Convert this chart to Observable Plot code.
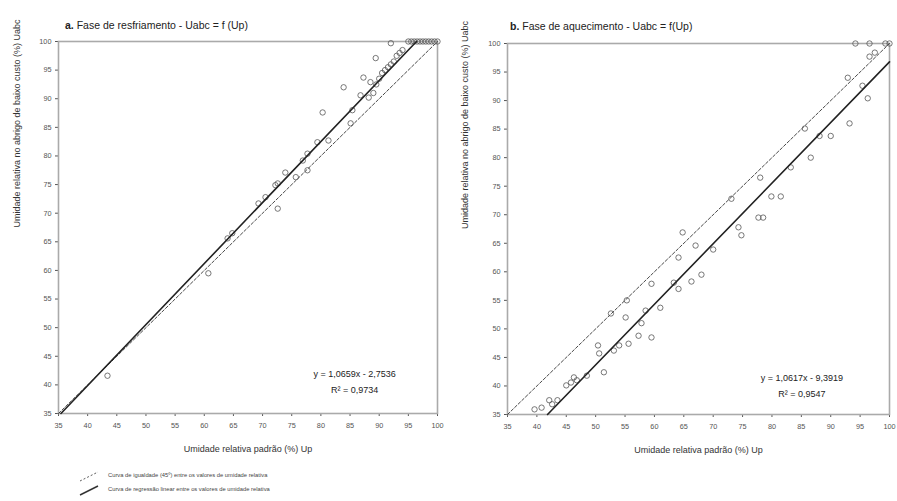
<!DOCTYPE html>
<html>
<head>
<meta charset="utf-8">
<script src="https://cdn.jsdelivr.net/npm/d3@7"></script>
<script src="https://cdn.jsdelivr.net/npm/@observablehq/plot@0.6"></script>
<style>
  body { margin: 0; background: #fff; font-family: "Liberation Sans", Arial, sans-serif; }
  #wrap { position: relative; width: 897px; height: 501px; overflow: hidden; }
  .panel { position: absolute; top: 0; }
  .title { position: absolute; font-size: 10.5px; color: #222; white-space: nowrap; }
  .legend { position: absolute; font-size: 5.8px; color: #444; white-space: nowrap; }
</style>
</head>
<body>
<div id="wrap"></div>
<script>
// ---------- data ----------
const ticks = [35, 40, 45, 50, 55, 60, 65, 70, 75, 80, 85, 90, 95, 100];

// Panel a: cooling phase (Up, Uabc)
const aUp = [43.4, 60.7, 64.0, 64.8, 69.3, 70.5, 72.2, 72.6, 72.6, 73.9, 75.7, 76.9, 77.7, 77.7,
  79.4, 80.3, 81.3, 83.9, 85.1, 85.4, 86.8, 87.3, 88.2, 88.5, 89.0, 89.4, 89.5, 90.0, 90.5, 91.0,
  91.5, 92.0, 92.0, 92.5, 93.0, 93.5, 94.0, 95.0, 95.5, 96.0, 96.5, 97.0, 97.5, 98.0, 98.5, 99.0, 99.5, 100];
const aUabc = [41.6, 59.5, 65.6, 66.5, 71.7, 72.8, 74.9, 75.2, 70.8, 77.1, 76.3, 79.2, 80.4, 77.5,
  82.4, 87.6, 82.7, 92.0, 85.7, 88.0, 90.6, 93.7, 90.2, 92.9, 91.0, 97.1, 92.5, 93.5, 94.5, 95.0,
  95.5, 96.0, 99.7, 96.5, 97.5, 98.0, 98.5, 100, 100, 100, 100, 100, 100, 100, 100, 100, 100, 100];

// Panel b: heating phase (Up, Uabc)
const bUp = [39.6, 40.8, 42.1, 42.6, 43.5, 45.0, 45.8, 46.3, 46.8, 48.5, 50.4, 50.6, 51.4, 52.6,
  53.1, 54.0, 55.1, 55.3, 55.6, 57.3, 57.8, 58.5, 59.5, 59.5, 61.0, 63.3, 64.1, 64.1, 64.8, 66.3,
  67.0, 68.0, 70.0, 73.1, 74.3, 74.8, 77.7, 78.0, 78.5, 79.9, 81.5, 83.2, 85.6, 86.6, 88.1, 90.0,
  92.9, 93.2, 95.4, 96.3, 94.2, 96.6, 96.6, 97.5, 99.3, 100];
const bUabc = [35.9, 36.2, 37.5, 36.8, 37.5, 40.1, 40.6, 41.5, 41.0, 41.8, 47.1, 45.7, 42.4, 52.7,
  46.2, 47.1, 52.0, 55.0, 47.4, 48.8, 51.0, 53.2, 57.9, 48.5, 53.7, 58.1, 57.0, 62.5, 66.9, 58.3,
  64.6, 59.5, 63.9, 72.8, 67.8, 66.4, 69.5, 76.5, 69.5, 73.2, 73.2, 78.3, 85.1, 80.0, 83.8, 83.8,
  94.0, 86.0, 92.6, 90.4, 100, 100, 97.7, 98.4, 100, 100];

// regression coefficients [slope, intercept], R²
const aCoef = [1.0659, -2.7536], aR2 = "0,9734";
const bCoef = [1.0617, -9.3919], bR2 = "0,9547";
const aEq = "y = 1,0659x - 2,7536";
const bEq = "y = 1,0617x - 9,3919";

const titles = [
  ["a.", " Fase de resfriamento - Uabc = f (Up)"],
  ["b.", " Fase de aquecimento - Uabc = f(Up)"]
];
const xLabel = "Umidade relativa padrão (%) Up";
const yLabel = "Umidade relativa no abrigo de baixo custo (%) Uabc";
const legendLabels = [
  "Curva de igualdade (45º) entre os valores de umidade relativa",
  "Curva de regressão linear entre os valores de umidade relativa"
];

// ---------- drawing ----------
const font = '"Liberation Sans", Arial, sans-serif';
const wrap = document.getElementById("wrap");

function regLine(coef) {
  const [m, b] = coef;
  const x0 = Math.max(35, (35 - b) / m);
  const x1 = Math.min(100, (100 - b) / m);
  return [{x: x0, y: m * x0 + b}, {x: x1, y: m * x1 + b}];
}

function panel(up, uabc, coef, eq, r2, opts) {
  const pts = up.map((v, i) => ({x: v, y: uabc[i]}));
  const ident = [{x: 35, y: 35}, {x: 100, y: 100}];
  const eqs = [
    {x: opts.eqX, y: opts.eqY, t: eq},
    {x: opts.eqX, y: opts.eqY - 2.8, t: "R² = " + r2}
  ];
  return Plot.plot({
    width: 448,
    height: 462,
    marginLeft: opts.ml,
    marginRight: opts.mr,
    marginTop: opts.mt,
    marginBottom: 462 - opts.bottom,
    style: {fontFamily: font, fontSize: "7.3px", color: "#555", background: "transparent"},
    x: {domain: [35, 100], ticks: ticks, tickSize: 3, tickPadding: 6, label: null},
    y: {domain: [35, 100], ticks: ticks, tickSize: 3, tickPadding: 4, label: null},
    marks: [
      Plot.frame({stroke: "#aaa", strokeWidth: 1.6}),
      Plot.line(ident, {x: "x", y: "y", stroke: "#333", strokeWidth: 0.9, strokeDasharray: "3,2"}),
      Plot.dot(pts, {x: "x", y: "y", r: 2.7, stroke: "#555", strokeWidth: 0.8, fill: "none"}),
      Plot.line(regLine(coef), {x: "x", y: "y", stroke: "#222", strokeWidth: 1.6}),
      Plot.text(eqs, {x: "x", y: "y", text: "t", fontSize: 9, fill: "#222"}),
      Plot.text([xLabel], {frameAnchor: "bottom", dy: 38, fontSize: 9, fill: "#333"}),
      Plot.text([yLabel], {frameAnchor: "left", dx: -opts.ml + 17, rotate: -90, fontSize: 9, fill: "#333"})
    ]
  });
}

const pa = panel(aUp, aUabc, aCoef, aEq, aR2, {ml: 58, mr: 11, mt: 41, bottom: 413, eqX: 85.8, eqY: 41.8});
pa.classList.add("panel");
pa.style.left = "0px";
wrap.appendChild(pa);

const pb = panel(bUp, bUabc, bCoef, bEq, bR2, {ml: 59, mr: 7, mt: 43, bottom: 414, eqX: 85.1, eqY: 41.4});
pb.classList.add("panel");
pb.style.left = "448px";
wrap.appendChild(pb);

// titles
[[65, 19], [510, 20]].forEach(([l, t], i) => {
  const d = document.createElement("div");
  d.className = "title";
  d.style.left = l + "px";
  d.style.top = t + "px";
  d.innerHTML = "<b>" + titles[i][0] + "</b>" + titles[i][1];
  wrap.appendChild(d);
});

// legend
legendLabels.forEach((lab, i) => {
  const y = 476 + i * 14;
  const s = document.createElementNS("http://www.w3.org/2000/svg", "svg");
  s.setAttribute("width", 30); s.setAttribute("height", 14);
  s.style.position = "absolute"; s.style.left = "76px"; s.style.top = (y - 7) + "px";
  const ln = document.createElementNS("http://www.w3.org/2000/svg", "line");
  ln.setAttribute("x1", 4); ln.setAttribute("y1", 12); ln.setAttribute("x2", 22); ln.setAttribute("y2", 3);
  ln.setAttribute("stroke", "#333");
  ln.setAttribute("stroke-width", i === 0 ? 0.8 : 1.5);
  if (i === 0) ln.setAttribute("stroke-dasharray", "2,2");
  s.appendChild(ln);
  wrap.appendChild(s);
  const d = document.createElement("div");
  d.className = "legend";
  d.style.left = "108px"; d.style.top = (y - 4) + "px";
  d.textContent = lab;
  wrap.appendChild(d);
});
</script>
</body>
</html>
